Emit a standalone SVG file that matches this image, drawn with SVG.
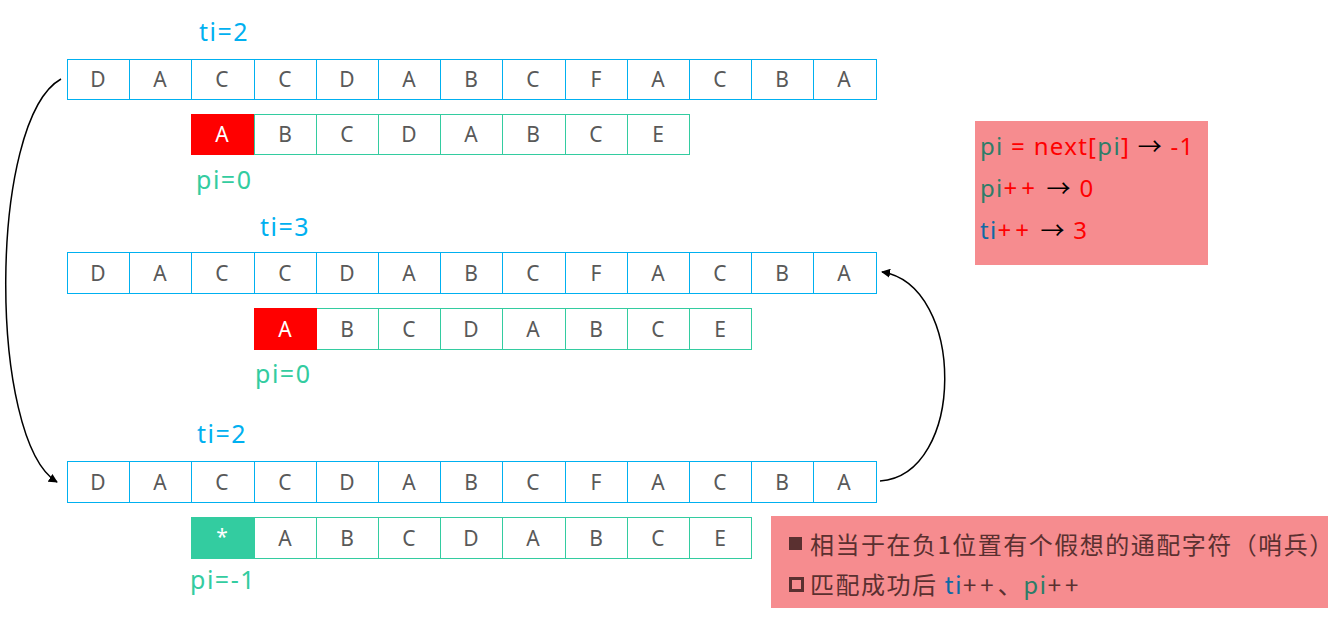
<svg xmlns="http://www.w3.org/2000/svg" width="1344" height="618" viewBox="0 0 1344 618">
<defs>
<style>
.t{fill:none;stroke:#00B0F0;stroke-width:1}
.p{fill:none;stroke:#33CCA0;stroke-width:1}
.c{font-family:"Noto Sans","Open Sans",sans-serif;font-size:21px;fill:#595959;text-anchor:middle}
.w{fill:#fff}
.lb{font-family:"Noto Sans","Open Sans",sans-serif;font-size:25px;letter-spacing:1.5px;fill:#00B0F0}
.lg{font-family:"Noto Sans","Open Sans",sans-serif;font-size:25px;letter-spacing:1.5px;fill:#33CCA0}
.n{font-family:"Noto Sans","Noto Sans CJK SC",sans-serif;font-size:24px;letter-spacing:1.3px}
.cn{font-family:"Noto Sans CJK SC","Noto Sans",sans-serif;font-size:24px;letter-spacing:1.5px;fill:#5A3030}
.pl{letter-spacing:4px}
.conn{fill:none;stroke:#000;stroke-width:1.5}
</style>
<marker id="ah" viewBox="0 0 10 10" refX="9" refY="5" markerWidth="9" markerHeight="9" markerUnits="userSpaceOnUse" orient="auto">
<path d="M0,0 L10,5 L0,10 z" fill="#000"/>
</marker>
</defs>
<rect width="1344" height="618" fill="#fff"/>

<g id="row1-text">
<rect class="t" x="67.5" y="59.5" width="809" height="40"/>
<path class="t" d="M129.5 59V100M191.5 59V100M254.5 59V100M316.5 59V100M378.5 59V100M440.5 59V100M502.5 59V100M565.5 59V100M627.5 59V100M689.5 59V100M751.5 59V100M813.5 59V100"/>
<g class="c">
<text x="98" y="87">D</text><text x="160" y="87">A</text><text x="222" y="87">C</text><text x="285" y="87">C</text><text x="347" y="87">D</text><text x="409" y="87">A</text><text x="471" y="87">B</text><text x="533" y="87">C</text><text x="596" y="87">F</text><text x="658" y="87">A</text><text x="720" y="87">C</text><text x="782" y="87">B</text><text x="844" y="87">A</text>
</g>
<text class="lb" x="199" y="41">ti=2</text>
</g>

<g id="row1-pattern">
<rect class="p" x="191.5" y="114.5" width="498" height="40"/>
<path class="p" d="M254.5 114V155M316.5 114V155M378.5 114V155M440.5 114V155M502.5 114V155M565.5 114V155M627.5 114V155"/>
<rect x="191" y="114" width="63" height="41" fill="#FF0000"/>
<g class="c">
<text class="w" x="222" y="142">A</text><text x="285" y="142">B</text><text x="347" y="142">C</text><text x="409" y="142">D</text><text x="471" y="142">A</text><text x="533" y="142">B</text><text x="596" y="142">C</text><text x="658" y="142">E</text>
</g>
<text class="lg" x="196" y="189">pi=0</text>
</g>

<g id="row2-text">
<rect class="t" x="67.5" y="252.5" width="809" height="41"/>
<path class="t" d="M129.5 252V294M191.5 252V294M254.5 252V294M316.5 252V294M378.5 252V294M440.5 252V294M502.5 252V294M565.5 252V294M627.5 252V294M689.5 252V294M751.5 252V294M813.5 252V294"/>
<g class="c">
<text x="98" y="281">D</text><text x="160" y="281">A</text><text x="222" y="281">C</text><text x="285" y="281">C</text><text x="347" y="281">D</text><text x="409" y="281">A</text><text x="471" y="281">B</text><text x="533" y="281">C</text><text x="596" y="281">F</text><text x="658" y="281">A</text><text x="720" y="281">C</text><text x="782" y="281">B</text><text x="844" y="281">A</text>
</g>
<text class="lb" x="260" y="236">ti=3</text>
</g>

<g id="row2-pattern">
<rect class="p" x="254.5" y="308.5" width="497" height="41"/>
<path class="p" d="M316.5 308V350M378.5 308V350M440.5 308V350M502.5 308V350M565.5 308V350M627.5 308V350M689.5 308V350"/>
<rect x="254" y="308" width="63" height="42" fill="#FF0000"/>
<g class="c">
<text class="w" x="285" y="337">A</text><text x="347" y="337">B</text><text x="409" y="337">C</text><text x="471" y="337">D</text><text x="533" y="337">A</text><text x="596" y="337">B</text><text x="658" y="337">C</text><text x="720" y="337">E</text>
</g>
<text class="lg" x="255" y="383">pi=0</text>
</g>

<g id="row3-text">
<rect class="t" x="67.5" y="461.5" width="809" height="41"/>
<path class="t" d="M129.5 461V503M191.5 461V503M254.5 461V503M316.5 461V503M378.5 461V503M440.5 461V503M502.5 461V503M565.5 461V503M627.5 461V503M689.5 461V503M751.5 461V503M813.5 461V503"/>
<g class="c">
<text x="98" y="490">D</text><text x="160" y="490">A</text><text x="222" y="490">C</text><text x="285" y="490">C</text><text x="347" y="490">D</text><text x="409" y="490">A</text><text x="471" y="490">B</text><text x="533" y="490">C</text><text x="596" y="490">F</text><text x="658" y="490">A</text><text x="720" y="490">C</text><text x="782" y="490">B</text><text x="844" y="490">A</text>
</g>
<text class="lb" x="197" y="443">ti=2</text>
</g>

<g id="row3-pattern">
<rect class="p" x="191.5" y="517.5" width="560" height="41"/>
<path class="p" d="M254.5 517V559M316.5 517V559M378.5 517V559M440.5 517V559M502.5 517V559M565.5 517V559M627.5 517V559M689.5 517V559"/>
<rect x="191" y="517" width="63" height="42" fill="#33CCA0"/>
<g class="c">
<text class="w" x="222" y="544">*</text><text x="285" y="546">A</text><text x="347" y="546">B</text><text x="409" y="546">C</text><text x="471" y="546">D</text><text x="533" y="546">A</text><text x="596" y="546">B</text><text x="658" y="546">C</text><text x="720" y="546">E</text>
</g>
<text class="lg" x="190" y="589">pi=-1</text>
</g>

<g id="note1">
<rect x="975" y="121" width="233" height="144" fill="#F68C8F"/>
<text class="n" x="980" y="155"><tspan fill="#2E7D68">pi</tspan><tspan fill="#FF0000"> = next[</tspan><tspan fill="#2E7D68">pi</tspan><tspan fill="#FF0000">] </tspan><tspan fill="#000">→</tspan><tspan fill="#FF0000"> -1</tspan></text>
<text class="n" x="980" y="197"><tspan fill="#2E7D68">pi</tspan><tspan fill="#FF0000" class="pl">++</tspan><tspan fill="#000"> →</tspan><tspan fill="#FF0000"> 0</tspan></text>
<text class="n" x="980" y="239"><tspan fill="#0E6AA6">ti</tspan><tspan fill="#FF0000" class="pl">++</tspan><tspan fill="#000"> →</tspan><tspan fill="#FF0000"> 3</tspan></text>
</g>

<g id="note2">
<rect x="771" y="516" width="557" height="92" fill="#F68C8F"/>
<rect x="789" y="537" width="13" height="13" fill="#5A3030"/>
<text class="cn" x="810" y="554">相当于在负1位置有个假想的通配字符（哨兵）</text>
<rect x="790.5" y="578.5" width="12" height="12" fill="none" stroke="#5A3030" stroke-width="3"/>
<text class="cn" x="810" y="594">匹配成功后 <tspan fill="#0E6AA6">ti</tspan><tspan class="pl">++</tspan>、<tspan fill="#2E7D68">pi</tspan><tspan class="pl">++</tspan></text>
</g>

<g id="connectors">
<path class="conn" d="M61 79 C-12 120,-12 440,57 482" marker-end="url(#ah)"/>
<path class="conn" d="M880 481 C966 475,966 285,882 272" marker-end="url(#ah)"/>
</g>
</svg>
